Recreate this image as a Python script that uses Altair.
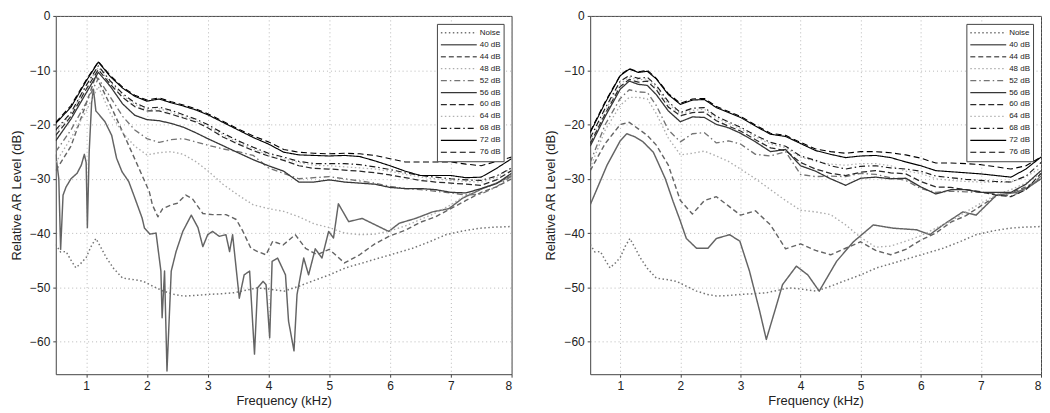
import altair as alt
import pandas as pd

SERIES = ["Noise", "40 dB", "44 dB", "48 dB", "52 dB", "56 dB", "60 dB", "64 dB", "68 dB", "72 dB", "76 dB"]
COLORS = ["#747474", "#646464", "#646464", "#adadad", "#747474", "#363636", "#2a2a2a", "#b2b2b2", "#1c1c1c", "#000000", "#000000"]
DASHES = [[1.5, 2.5], [1, 0], [5, 3], [1.5, 2.5], [6, 3, 1.5, 3], [1, 0], [6, 3], [1.5, 2.5], [6, 3, 1.5, 3], [1, 0], [6, 3.5]]
WIDTHS = [1.5, 1.1, 1.1, 1.5, 1.4, 1.8, 2.2, 1.8, 2.2, 2.9, 3.2]

# ---- shared noise floor ----
xN = [0.5, 0.58, 0.67, 0.75, 0.83, 0.92, 1.0, 1.08, 1.16, 1.25, 1.33, 1.45, 1.6, 1.8, 1.94, 2.1, 2.27,
      2.45, 2.6, 2.8, 3.0, 3.2, 3.43, 3.6, 3.81, 4.0, 4.26, 4.5, 4.71, 5.0, 5.27, 5.55, 5.82, 6.1, 6.37,
      6.65, 6.92, 7.2, 7.48, 7.75, 8.0]
yN = [-42.1, -43.5, -43.4, -45.0, -46.4, -45.5, -44.5, -42.5, -41.0, -42.8, -44.5, -46.5, -48.3, -48.6,
      -48.9, -49.8, -50.7, -51.3, -51.6, -51.5, -51.3, -51.2, -51.0, -50.6, -50.1, -50.3, -50.7, -49.8,
      -48.9, -47.7, -46.4, -45.5, -44.6, -43.7, -42.8, -41.6, -40.3, -39.6, -39.1, -38.9, -38.8]

# ---- left panel ----
F_L = [0.5, 0.75, 1.0, 1.2, 1.4, 1.6, 1.8, 2.0, 2.2, 2.4, 2.6, 2.8, 3.0, 3.25, 3.5, 3.75, 4.0, 4.25, 4.5,
       4.75, 5.0, 5.25, 5.5, 5.75, 6.0, 6.25, 6.5, 6.75, 7.0, 7.25, 7.5, 7.75, 8.0]
L76 = [-19.6, -16.5, -11.8, -8.4, -11.0, -13.1, -14.6, -15.5, -15.1, -15.8, -16.4, -17.1, -18.0, -19.4, -20.8,
       -22.1, -23.2, -24.6, -25.1, -25.3, -25.4, -25.3, -25.4, -25.7, -26.3, -26.9, -26.9, -26.9, -26.9, -27.3,
       -27.6, -26.8, -26.0]
L72 = [-19.8, -16.8, -12.0, -8.5, -11.2, -13.3, -14.8, -15.7, -15.3, -16.0, -16.6, -17.3, -18.2, -19.6, -21.0,
       -22.4, -23.6, -25.1, -25.6, -25.7, -25.8, -25.7, -25.9, -26.7, -27.6, -28.6, -29.4, -29.4, -29.4, -29.8,
       -29.7, -28.1, -26.3]
L68 = [-21.0, -17.8, -12.8, -9.2, -12.0, -14.3, -16.0, -17.0, -16.8, -17.4, -18.2, -19.0, -20.0, -21.6, -23.0,
       -24.2, -25.3, -26.0, -26.8, -27.2, -27.2, -27.2, -27.4, -27.8, -28.3, -28.9, -29.4, -29.7, -30.0, -30.2,
       -30.3, -29.5, -28.0]
L64 = [-21.5, -18.0, -13.0, -9.5, -12.3, -14.6, -16.3, -17.3, -17.1, -17.7, -18.5, -19.3, -20.3, -21.9, -23.3,
       -24.5, -25.6, -26.3, -27.0, -27.5, -27.6, -27.8, -28.0, -28.2, -28.6, -29.2, -29.7, -30.0, -30.3, -30.5,
       -30.6, -29.8, -28.0]
L60 = [-22.0, -18.5, -13.5, -9.9, -12.6, -15.0, -16.7, -17.5, -17.5, -18.1, -18.8, -19.5, -20.6, -22.3, -23.6,
       -24.8, -25.8, -26.6, -27.6, -28.1, -28.2, -28.4, -28.6, -28.9, -29.3, -29.8, -30.3, -30.6, -30.8, -31.0,
       -31.2, -30.2, -28.5]
L56 = [-23.0, -19.0, -14.2, -10.4, -13.0, -16.2, -18.3, -19.1, -19.3, -19.8, -20.5, -21.5, -22.6, -23.9, -25.2,
       -26.5, -27.6, -28.6, -30.6, -30.6, -30.2, -30.6, -30.8, -31.0, -31.6, -31.8, -31.8, -32.0, -32.5, -32.6,
       -31.8, -30.9, -29.0]
L52 = [-25.0, -21.0, -16.0, -11.5, -15.0, -18.5, -21.0, -22.6, -23.3, -22.8, -22.6, -23.2, -23.8, -24.5, -25.0,
       -25.7, -28.0, -29.0, -30.0, -29.8, -29.6, -30.0, -30.4, -30.8, -31.4, -31.8, -32.0, -32.3, -32.6, -33.0,
       -32.8, -31.5, -29.5]
L48 = [-27.0, -22.5, -17.5, -13.0, -18.0, -21.5, -24.0, -25.6, -25.2, -25.0, -25.5, -26.8, -28.5, -31.0, -33.0,
       -34.8, -35.5, -36.0, -37.0, -38.3, -39.0, -40.0, -40.3, -40.2, -39.6, -38.7, -37.5, -36.3, -34.8, -33.0,
       -31.8, -30.8, -29.5]
x44L = [0.5, 0.75, 0.99, 1.16, 1.43, 1.65, 1.87, 2.04, 2.09, 2.18, 2.26, 2.4, 2.5, 2.64, 2.75, 2.92, 3.08, 3.3,
        3.47, 3.58, 3.71, 3.82, 3.96, 4.07, 4.24, 4.44, 4.61, 4.8, 5.0, 5.25, 5.5, 5.75, 6.0, 6.25, 6.5, 6.75,
        7.0, 7.25, 7.5, 7.75, 8.0]
L44 = [-28.5, -24.0, -16.5, -11.0, -17.2, -22.6, -28.1, -32.4, -34.8, -37.0, -35.5, -34.8, -34.5, -33.0, -33.7,
       -36.4, -36.6, -36.6, -37.5, -39.7, -42.8, -43.4, -44.0, -41.5, -42.2, -40.3, -42.8, -44.0, -43.0, -45.5,
       -44.0, -42.0, -40.5, -39.5, -38.0, -37.0, -35.5, -34.0, -32.5, -31.5, -30.0]
x40L = [0.5, 0.55, 0.58, 0.62, 0.67, 0.75, 0.85, 0.92, 0.97, 1.0, 1.02, 1.05, 1.09, 1.12, 1.16, 1.2, 1.31, 1.42,
        1.5, 1.59, 1.7, 1.78, 1.92, 1.96, 2.05, 2.15, 2.23, 2.25, 2.29, 2.33, 2.4, 2.48, 2.59, 2.73, 2.84, 2.92,
        3.0, 3.08, 3.19, 3.3, 3.36, 3.41, 3.52, 3.6, 3.69, 3.77, 3.82, 3.91, 3.96, 4.02, 4.06, 4.15, 4.28, 4.33,
        4.42, 4.47, 4.58, 4.66, 4.77, 4.88, 4.99, 5.07, 5.15, 5.32, 5.54, 5.76, 5.98, 6.15, 6.42, 6.7, 6.97,
        7.19, 7.52, 7.8, 8.0]
L40 = [-25.5, -30.0, -43.0, -33.0, -31.5, -30.0, -29.0, -27.5, -25.5, -27.0, -39.0, -25.0, -16.0, -13.5, -17.5,
       -18.0, -19.5, -22.0, -26.2, -28.7, -30.5, -32.9, -37.2, -39.1, -40.2, -40.0, -47.0, -55.6, -47.0, -65.4,
       -47.0, -43.4, -39.7, -36.7, -39.0, -42.5, -40.3, -39.7, -40.6, -40.3, -43.4, -40.3, -52.0, -47.7, -47.0,
       -62.3, -50.1, -48.9, -49.5, -59.3, -45.2, -44.6, -47.7, -56.2, -61.7, -51.3, -44.6, -47.7, -42.9, -44.6,
       -39.7, -40.9, -34.6, -37.9, -37.3, -38.5, -39.7, -38.2, -37.3, -36.1, -35.5, -33.6, -31.8, -30.6, -29.4]

# ---- right panel ----
F_R = [0.5, 0.75, 1.0, 1.15, 1.3, 1.45, 1.6, 1.8, 2.0, 2.2, 2.4, 2.6, 2.8, 3.0, 3.25, 3.5, 3.75, 4.0, 4.25,
       4.5, 4.75, 5.0, 5.25, 5.5, 5.75, 6.0, 6.25, 6.5, 6.75, 7.0, 7.25, 7.5, 7.75, 8.0]
R76 = [-21.3, -15.8, -10.9, -9.7, -10.3, -10.0, -11.5, -14.3, -16.1, -15.3, -15.2, -16.7, -17.6, -18.5, -20.1,
       -21.6, -22.0, -23.3, -24.5, -25.0, -25.3, -25.0, -25.0, -25.2, -25.6, -26.2, -27.1, -27.1, -27.2, -27.4,
       -27.8, -28.2, -27.6, -26.0]
R72 = [-21.5, -16.0, -11.0, -9.8, -10.4, -10.2, -11.6, -14.5, -16.3, -15.5, -15.4, -16.9, -17.8, -18.7, -20.3,
       -21.8, -22.2, -23.5, -24.8, -25.5, -26.1, -25.8, -25.7, -26.1, -26.9, -27.6, -28.5, -28.7, -28.9, -29.1,
       -29.4, -29.7, -28.2, -26.0]
R68 = [-22.5, -17.0, -12.0, -11.0, -11.5, -11.3, -12.8, -15.8, -17.8, -17.0, -16.9, -18.5, -19.5, -20.5, -22.0,
       -23.3, -24.0, -25.8, -26.6, -27.6, -28.2, -27.7, -27.6, -28.0, -28.2, -28.6, -29.5, -29.8, -30.1, -30.3,
       -30.5, -30.6, -29.5, -27.0]
R64 = [-23.0, -17.5, -12.5, -11.3, -11.8, -11.6, -13.2, -16.2, -18.0, -17.4, -17.2, -18.8, -19.8, -20.8, -22.3,
       -23.6, -24.3, -26.0, -26.8, -27.3, -27.5, -27.2, -27.2, -27.6, -28.6, -29.0, -30.0, -30.3, -30.5, -30.6,
       -30.6, -30.6, -29.6, -28.0]
R60 = [-23.5, -18.0, -13.0, -11.7, -12.2, -12.0, -13.6, -16.8, -18.4, -17.8, -17.7, -19.3, -20.3, -21.2, -22.8,
       -24.3, -24.8, -27.0, -28.2, -29.0, -29.4, -28.8, -28.5, -28.9, -29.1, -30.5, -31.5, -31.6, -32.0, -32.4,
       -33.0, -33.3, -32.0, -29.0]
R56 = [-24.0, -18.5, -13.5, -12.0, -12.6, -12.8, -14.5, -17.5, -19.5, -18.6, -18.7, -20.0, -20.6, -21.6, -23.2,
       -25.0, -24.6, -27.6, -28.6, -30.0, -31.2, -29.9, -29.7, -30.0, -29.9, -31.5, -32.8, -32.0, -32.0, -32.5,
       -32.5, -32.5, -31.0, -28.5]
R52 = [-27.0, -20.0, -15.2, -13.6, -14.0, -14.1, -16.5, -21.0, -23.2, -21.7, -21.5, -23.4, -23.0, -23.6, -25.5,
       -25.8, -25.0, -29.2, -29.6, -29.5, -29.6, -29.0, -29.2, -29.8, -30.3, -31.8, -32.5, -32.3, -32.4, -32.5,
       -32.8, -33.2, -32.0, -29.5]
R48 = [-28.0, -21.0, -16.5, -15.0, -15.0, -15.3, -18.0, -22.5, -25.6, -25.3, -24.9, -25.8, -26.8, -28.2, -30.0,
       -32.0, -34.0, -35.8, -36.1, -36.6, -38.5, -40.8, -42.6, -42.4, -41.5, -40.5, -39.1, -37.8, -36.1, -34.5,
       -33.0, -32.0, -30.8, -29.0]
R44 = [-28.5, -23.5, -20.0, -19.6, -20.8, -22.0, -23.8, -27.5, -34.0, -36.5, -34.0, -33.3, -35.0, -36.7, -35.9,
       -38.5, -42.9, -42.0, -43.2, -44.0, -42.8, -41.6, -43.2, -44.0, -43.0, -41.3, -40.0, -38.0, -36.8, -35.0,
       -33.2, -32.6, -31.5, -30.0]
x40R = [0.5, 0.78, 1.0, 1.11, 1.25, 1.38, 1.55, 1.6, 1.75, 1.88, 2.0, 2.1, 2.27, 2.46, 2.6, 2.82, 2.99, 3.15,
        3.32, 3.43, 3.57, 3.7, 3.93, 4.12, 4.31, 4.6, 4.88, 5.21, 5.54, 5.93, 6.15, 6.37, 6.7, 6.92, 7.26, 7.59,
        7.8, 8.0]
R40 = [-34.8, -27.5, -23.0, -21.7, -22.3, -23.2, -25.1, -26.3, -30.0, -34.2, -37.8, -41.0, -42.8, -42.8, -41.0,
       -40.3, -41.5, -47.0, -54.4, -59.6, -54.4, -49.5, -46.1, -47.7, -50.7, -45.2, -41.6, -38.5, -39.1, -39.4,
       -40.3, -38.5, -36.1, -36.7, -33.0, -32.5, -31.5, -30.0]

LEFT = {"Noise": (xN, yN), "40 dB": (x40L, L40), "44 dB": (x44L, L44), "48 dB": (F_L, L48),
        "52 dB": (F_L, L52), "56 dB": (F_L, L56), "60 dB": (F_L, L60), "64 dB": (F_L, L64),
        "68 dB": (F_L, L68), "72 dB": (F_L, L72), "76 dB": (F_L, L76)}
RIGHT = {"Noise": (xN, yN), "40 dB": (x40R, R40), "44 dB": (F_R, R44), "48 dB": (F_R, R48),
         "52 dB": (F_R, R52), "56 dB": (F_R, R56), "60 dB": (F_R, R60), "64 dB": (F_R, R64),
         "68 dB": (F_R, R68), "72 dB": (F_R, R72), "76 dB": (F_R, R76)}


def to_df(d):
    rows = []
    for s in SERIES:
        xs, ys = d[s]
        for i, (x, y) in enumerate(zip(xs, ys)):
            rows.append({"series": s, "f": x, "v": y, "i": i})
    return pd.DataFrame(rows)


FONT = "Liberation Sans"


def panel(df, w):
    leg = alt.Legend(title=None)
    return alt.Chart(df).mark_line(clip=True, strokeJoin="round").encode(
        x=alt.X("f:Q", scale=alt.Scale(domain=[0.5, 8], nice=False, zero=False),
                axis=alt.Axis(values=[1, 2, 3, 4, 5, 6, 7, 8], title="Frequency (kHz)", format="d")),
        y=alt.Y("v:Q", scale=alt.Scale(domain=[-66, 0], nice=False, zero=False),
                axis=alt.Axis(values=[0, -10, -20, -30, -40, -50, -60], title="Relative AR Level (dB)", format="d")),
        color=alt.Color("series:N", scale=alt.Scale(domain=SERIES, range=COLORS), legend=leg),
        strokeDash=alt.StrokeDash("series:N", scale=alt.Scale(domain=SERIES, range=DASHES), legend=leg),
        strokeWidth=alt.StrokeWidth("series:N", scale=alt.Scale(domain=SERIES, range=WIDTHS), legend=leg),
        order=alt.Order("i:Q"),
    ).properties(width=w, height=360)


chart = alt.hconcat(panel(to_df(LEFT), 458), panel(to_df(RIGHT), 453), spacing=32).resolve_legend(
    color="independent", strokeDash="independent", strokeWidth="independent"
).resolve_scale(
    color="independent", strokeDash="independent", strokeWidth="independent"
).configure_view(
    stroke="#444", strokeWidth=1
).configure_axis(
    grid=True, gridColor="#9a9a9a", gridDash=[1, 3], gridOpacity=0.7,
    domain=False, tickColor="#444", tickSize=3,
    labelFont=FONT, titleFont=FONT, labelFontSize=12, titleFontSize=13,
    labelColor="#222", titleColor="#222", titleFontWeight="normal",
    labelPadding=3,
).configure_axisY(titlePadding=6).configure_axisX(titlePadding=3).configure_legend(
    orient="top-right", offset=8, strokeColor="#444", fillColor="white", padding=3,
    labelFont=FONT, labelFontSize=8, labelColor="#222", symbolSize=1300, rowPadding=0,
    labelOffset=2, symbolType="stroke", clipHeight=12,
).properties(background="white", padding={"left": 2, "top": 0, "right": 0, "bottom": 0})

chart.save("out.html", embed_options={"renderer": "svg", "actions": False})
